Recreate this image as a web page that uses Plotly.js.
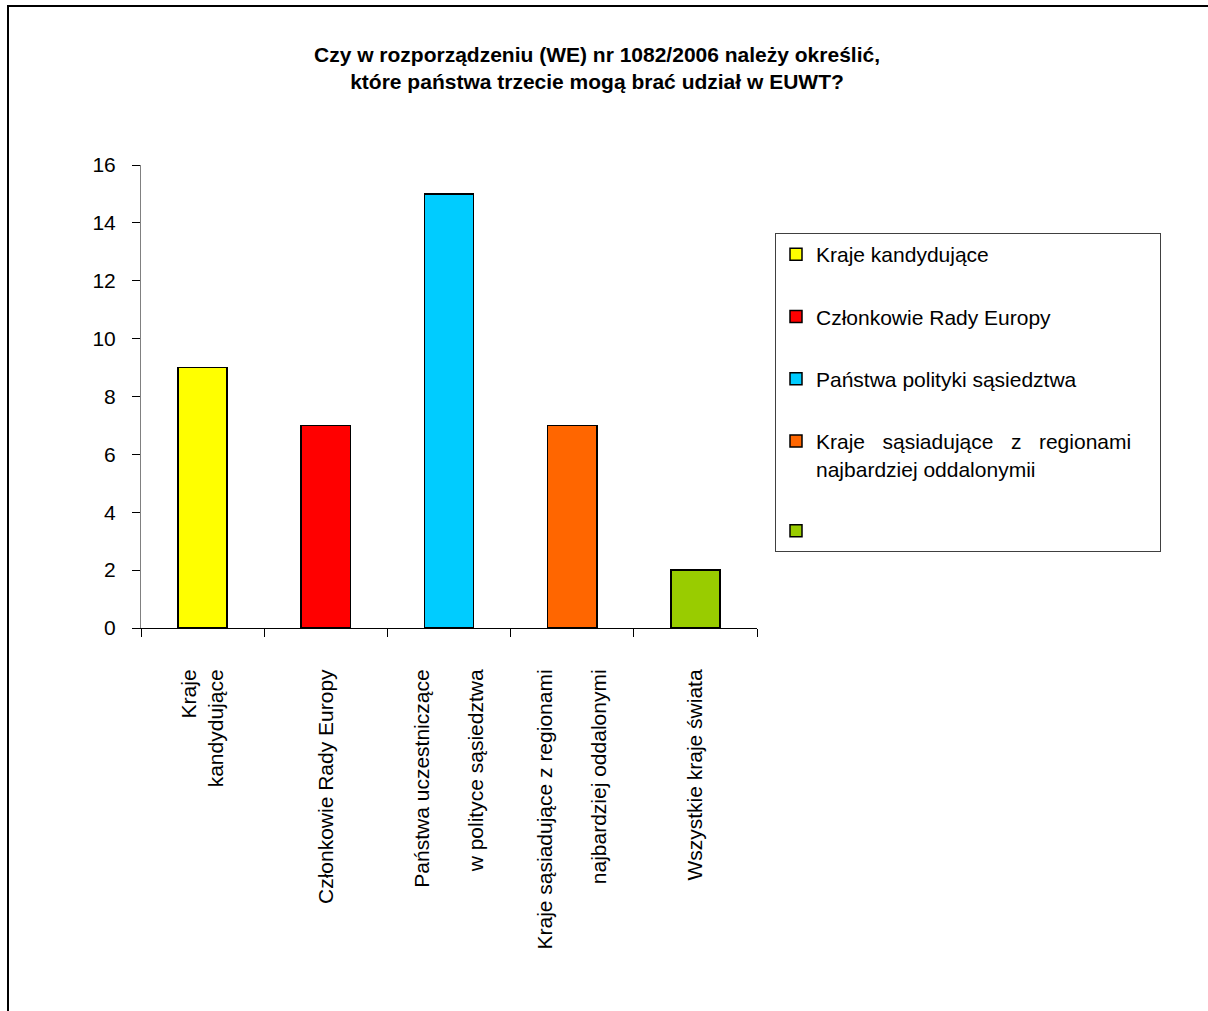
<!DOCTYPE html>
<html>
<head>
<meta charset="utf-8">
<script src="https://cdn.plot.ly/plotly-3.0.1.min.js"></script>
<style>html,body{margin:0;padding:0;background:#fff;}</style>
</head>
<body>
<div id="chart" style="width:1208px;height:1011px;"></div>
<script>
// Data
const categories = [
  "Kraje<br>kandydujące",
  "Członkowie Rady Europy",
  "Państwa uczestniczące<br><br>w polityce sąsiedztwa",
  "Kraje sąsiadujące z regionami<br><br>najbardziej oddalonymi",
  "Wszystkie kraje świata"
];
const legendNames = [
  "Kraje kandydujące",
  "Członkowie Rady Europy",
  "Państwa polityki sąsiedztwa",
  "Kraje \u00A0\u00A0sąsiadujące \u00A0\u00A0z \u00A0\u00A0regionami\u00A0\u00A0\u00A0\u00A0<br>najbardziej oddalonymii",
  " "
];
const values = [9, 7, 15, 7, 2];
const colors = ["#FFFF00", "#FF0000", "#00CCFF", "#FF6600", "#99CC00"];
const yTicks = [0, 2, 4, 6, 8, 10, 12, 14, 16];
const titleText = "Czy w rozporządzeniu (WE) nr 1082/2006 należy określić,<br>które państwa trzecie mogą brać udział w EUWT?";

const FONT = "Liberation Sans, Arial, sans-serif";

const traces = categories.map((c, i) => ({
  type: "bar",
  x: [c],
  y: [values[i]],
  name: legendNames[i],
  legendgroup: "g" + i,
  marker: { color: colors[i], line: { color: "#000000", width: 1.5 } },
  hoverinfo: "x+y"
}));

const layout = {
  width: 1208,
  height: 1011,
  paper_bgcolor: "#ffffff",
  plot_bgcolor: "#ffffff",
  font: { family: FONT, size: 21, color: "#000000" },
  margin: { l: 141, r: 451, t: 165, b: 383, pad: 0 },
  barmode: "stack",
  bargap: 0.6,
  title: {
    text: titleText,
    font: { family: FONT, size: 21, color: "#000000", weight: "bold" },
    x: 597 / 1208,
    xanchor: "center",
    xref: "container",
    y: 1 - 62 / 1011,
    yanchor: "top",
    yref: "container"
  },
  xaxis: {
    type: "category",
    categoryorder: "array",
    categoryarray: categories,
    showline: true,
    linecolor: "#000000",
    linewidth: 1,
    ticks: "outside",
    tickson: "boundaries",
    ticklen: 8,
    tickcolor: "#000000",
    tickangle: -90,
    ticklabelstandoff: 32,
    tickfont: { family: FONT, size: 21, color: "#000000" },
    showgrid: false,
    zeroline: false,
    fixedrange: true
  },
  yaxis: {
    range: [0, 16],
    tickmode: "array",
    tickvals: yTicks,
    ticktext: yTicks.map(String),
    showline: true,
    linecolor: "#808080",
    linewidth: 1,
    ticks: "outside",
    ticklen: 8,
    tickcolor: "#000000",
    ticklabelstandoff: 12,
    tickfont: { family: FONT, size: 21, color: "#000000" },
    showgrid: false,
    zeroline: false,
    fixedrange: true
  },
  showlegend: true,
  legend: {
    x: (775 - 141) / 616,
    xanchor: "left",
    y: (628 - 233) / 463,
    yanchor: "top",
    bgcolor: "#ffffff",
    bordercolor: "#404040",
    borderwidth: 1,
    font: { family: FONT, size: 21, color: "#000000" },
    tracegroupgap: 32,
    valign: "top",
    traceorder: "grouped",
    itemclick: false,
    itemdoubleclick: false
  },
  shapes: [{
    type: "rect",
    xref: "paper", yref: "paper",
    x0: (8 - 141) / 616, x1: (1230 - 141) / 616,
    y0: (628 - 1030) / 463, y1: (628 - 6) / 463,
    line: { color: "#000000", width: 2 },
    fillcolor: "rgba(0,0,0,0)",
    layer: "above"
  }]
};

Plotly.newPlot("chart", traces, layout, { displayModeBar: false, staticPlot: true });
</script>
</body>
</html>
